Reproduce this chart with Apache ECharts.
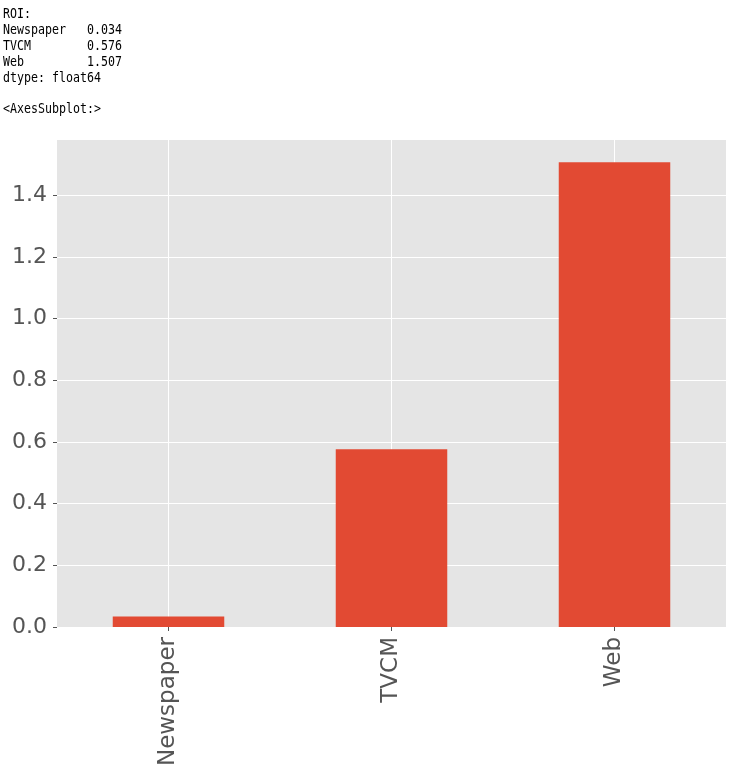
<!DOCTYPE html>
<html><head><meta charset="utf-8">
<script src="https://cdn.jsdelivr.net/npm/echarts@6/dist/echarts.min.js"></script>
<style>html,body{margin:0;padding:0;background:#fff}#c{width:733px;height:783px}</style>
</head><body><div id="c"></div>
<script>
var categories = ['Newspaper', 'TVCM', 'Web'];
var roiValues = [0.034, 0.576, 1.507];
var textLines = ['ROI:', 'Newspaper   0.034', 'TVCM        0.576', 'Web         1.507', 'dtype: float64', '', '<AxesSubplot:>'];

var chart = echarts.init(document.getElementById('c'), null, {renderer: 'canvas'});
var yMax = Math.max.apply(null, roiValues) * 1.05;
var lineYs = [15, 31, 47, 63, 79, 95, 110];
var graphics = [];
textLines.forEach(function (t, i) {
  if (!t) return;
  graphics.push({
    type: 'text', left: 3, top: lineYs[i] - 8, scaleX: 0.83,
    style: {text: t, fill: '#000', font: '14px "DejaVu Sans Mono", monospace'}
  });
});
chart.setOption({
  animation: false,
  backgroundColor: '#ffffff',
  graphic: graphics,
  grid: {left: 57, right: 7, top: 139, bottom: 156, show: true, backgroundColor: '#E5E5E5', borderWidth: 0},
  xAxis: {
    type: 'category', data: categories, boundaryGap: true,
    axisLine: {show: false},
    axisTick: {show: true, alignWithLabel: true, length: 4, lineStyle: {color: '#555555'}},
    splitLine: {show: true, alignWithLabel: true, lineStyle: {color: '#ffffff', width: 1}},
    axisLabel: {rotate: 90, fontSize: 23, color: '#555555', fontFamily: 'DejaVu Sans', margin: 10}
  },
  yAxis: {
    type: 'value', min: 0, max: yMax, interval: 0.2,
    axisLine: {show: false},
    axisTick: {show: true, length: 4, lineStyle: {color: '#555555'}},
    splitLine: {show: true, lineStyle: {color: '#ffffff', width: 1}},
    axisLabel: {fontSize: 22, color: '#555555', fontFamily: 'DejaVu Sans', margin: 10, showMaxLabel: false,
      formatter: function (v) { return v.toFixed(1); }}
  },
  series: [{
    type: 'bar', data: roiValues, barWidth: '50%',
    itemStyle: {color: '#E24A33'}
  }]
});
</script></body></html>
